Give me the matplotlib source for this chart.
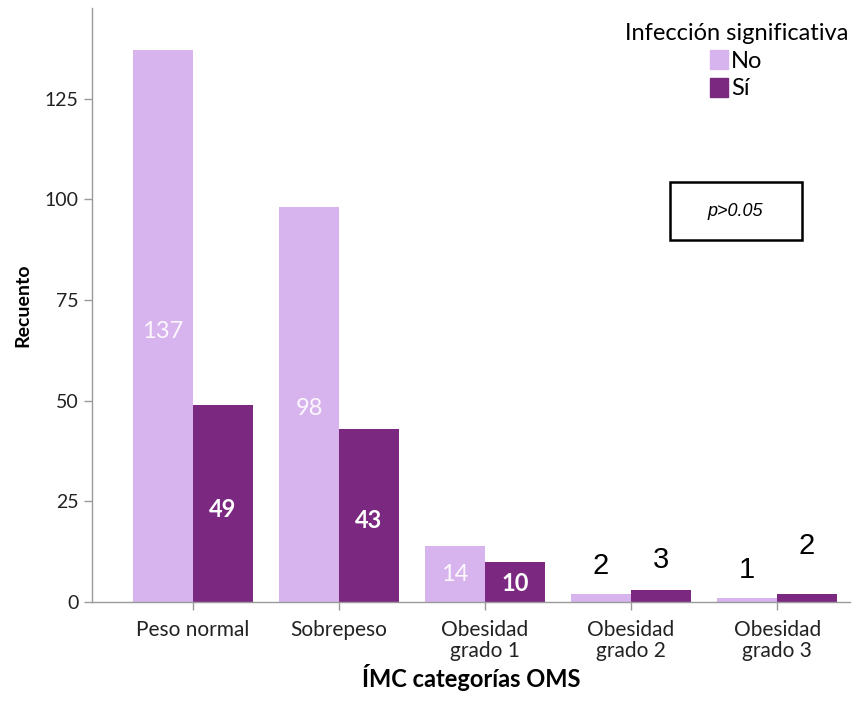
import numpy as np
import matplotlib
matplotlib.use('Agg')
import matplotlib.pyplot as plt
from matplotlib.patches import Patch, Rectangle

# data
categorias = ['Peso normal', 'Sobrepeso', 'Obesidad\ngrado 1', 'Obesidad\ngrado 2', 'Obesidad\ngrado 3']
no_vals = [137, 98, 14, 2, 1]
si_vals = [49, 43, 10, 3, 2]

c_no = '#D8B4EE'
c_si = '#7A2880'
grey = '#9a9a9a'
font = 'Lato'

fig = plt.figure(figsize=(8.64, 7.02), dpi=100)
ax = fig.add_axes([0.1065, 0.1425, 0.8775, 0.846])

x = np.arange(len(categorias))
w = 0.41
ax.bar(x - w / 2, no_vals, w, color=c_no)
ax.bar(x + w / 2, si_vals, w, color=c_si)

# labels inside the tall bars
for i in range(3):
    ax.text(x[i] - w / 2, no_vals[i] * 0.49, str(no_vals[i]), color='white', ha='center', va='center',
            fontsize=17, family=font, alpha=0.9)
    ax.text(x[i] + w / 2, si_vals[i] * 0.47, str(si_vals[i]), color='white', ha='center', va='center',
            fontsize=17, family=font, fontweight='bold')

# numbers typed above the small bars
for i in range(3, 5):
    ax.text(x[i] - w / 2, no_vals[i] + 7, str(no_vals[i]), ha='center', va='center',
            fontsize=21, family='Liberation Sans')
    ax.text(x[i] + w / 2, si_vals[i] + 7.3 + (4.5 if i == 4 else 0), str(si_vals[i]), ha='center', va='center',
            fontsize=21, family='Liberation Sans')

ax.set_xlim(-0.69, 4.5)
ax.set_ylim(0, 147.5)
ax.set_yticks([0, 25, 50, 75, 100, 125])
ax.set_xticks(x)
ax.set_xticklabels(categorias, fontsize=15, family=font, color='#222222', linespacing=1.05)
for lab in ax.get_yticklabels():
    lab.set_family(font)
    lab.set_fontsize(14)
    lab.set_color('#222222')
ax.tick_params(axis='both', color=grey, length=6, width=1)
ax.tick_params(axis='x', pad=7)

for s in ['top', 'right']:
    ax.spines[s].set_visible(False)
for s in ['left', 'bottom']:
    ax.spines[s].set_color(grey)
    ax.spines[s].set_linewidth(1)

ax.set_ylabel('Recuento', fontsize=14, family=font, fontweight='bold', labelpad=10)
ax.set_xlabel('ÍMC categorías OMS', fontsize=17, family=font, fontweight='bold', labelpad=2)

# legend
handles = [Patch(color=c_no, label='No'), Patch(color=c_si, label='Sí')]
leg = ax.legend(handles=handles, title='Infección significativa', loc='upper right',
                bbox_to_anchor=(1.025, 1.01), frameon=False, prop={'family': font, 'size': 17},
                title_fontproperties={'family': font, 'size': 17},
                handlelength=0.75, handleheight=0.85, handletextpad=0.15, labelspacing=0.25)
leg._legend_box.align = 'center'

# p value box
ax.add_patch(Rectangle((0.7625, 0.609), 0.174, 0.098, transform=ax.transAxes, fill=False,
                       edgecolor='black', linewidth=1.8, clip_on=False))
ax.text(0.849, 0.658, 'p>0.05', transform=ax.transAxes, ha='center', va='center',
        fontsize=13, style='italic', family='Liberation Sans')

plt.savefig('out.png', dpi=100)
